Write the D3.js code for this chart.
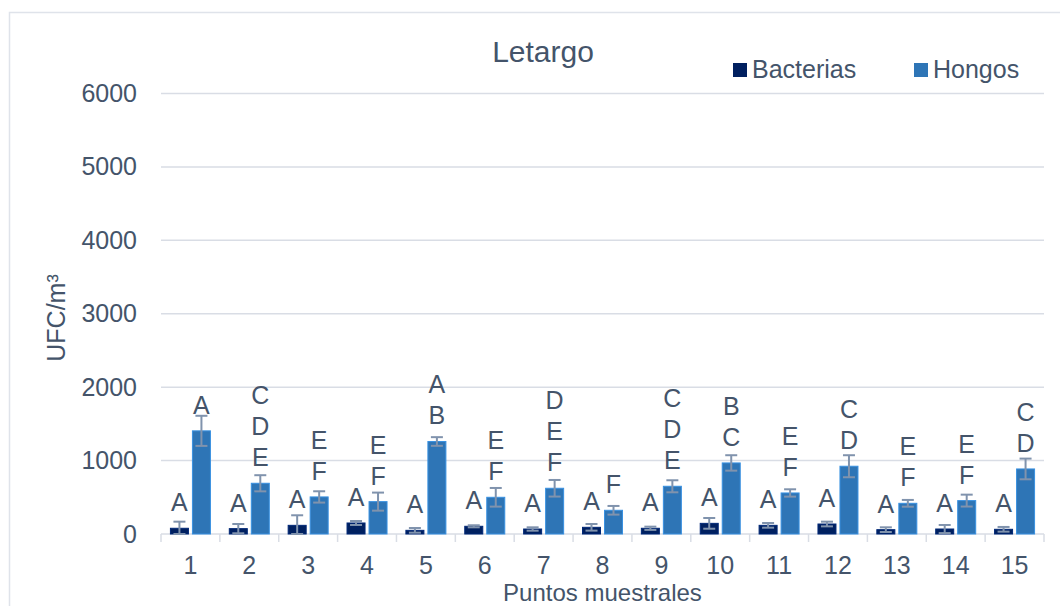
<!DOCTYPE html>
<html>
<head>
<meta charset="utf-8">
<script src="https://cdn.jsdelivr.net/npm/d3@7"></script>
<style>
  html, body { margin: 0; padding: 0; background: #ffffff; }
  svg { display: block; font-family: "Liberation Sans", Arial, sans-serif; }
</style>
</head>
<body>
<svg id="chart" width="1060" height="606"></svg>
<script>
// Sampling points and colony counts (UFC/m³) during the lethargy period
const points = ["1","2","3","4","5","6","7","8","9","10","11","12","13","14","15"];
const seriesNames = ["Bacterias", "Hongos"];
const bacterias = [78, 73, 118, 150, 50, 105, 68, 91, 78, 145, 118, 136, 59, 68, 64];
const bacteriasErr = [90, 63, 137, 27, 32, 14, 23, 45, 22, 73, 32, 32, 32, 55, 32];
const hongos = [1405, 691, 505, 441, 1260, 500, 623, 323, 650, 968, 559, 923, 418, 455, 886];
const hongosErr = [205, 110, 77, 123, 59, 127, 113, 59, 82, 105, 50, 150, 46, 81, 141];
// Significance groups (Tukey letters)
const bacteriasGroups = ["A","A","A","A","A","A","A","A","A","A","A","A","A","A","A"];
const hongosGroups = ["A","CDE","EF","EF","AB","EF","DEF","F","CDE","BC","EF","CD","EF","EF","CD"];
const yTicks = [0, 1000, 2000, 3000, 4000, 5000, 6000];

const colors = { Bacterias: "#002060", Hongos: "#2e75b6" };
const textColor = "#44546a";
const gridColor = "#d9dde5";
const errColor = "#8093ad";

const svg = d3.select("#chart");
const m = { left: 161, right: 1044, top: 93.5, bottom: 534 };

// chart frame
svg.append("rect")
  .attr("x", 9.5).attr("y", 12.5)
  .attr("width", 1100).attr("height", 700)
  .attr("fill", "none").attr("stroke", "#dfe3ea").attr("stroke-width", 1.5);

const x = d3.scaleBand().domain(points).range([m.left, m.right]).padding(0);
const y = d3.scaleLinear().domain([0, 6000]).range([m.bottom, m.top]);

// horizontal gridlines
svg.append("g").selectAll("line").data(yTicks.filter(d => d > 0)).join("line")
  .attr("x1", m.left).attr("x2", m.right)
  .attr("y1", d => y(d)).attr("y2", d => y(d))
  .attr("stroke", gridColor).attr("stroke-width", 1.5);

// y axis labels
const yAxis = d3.axisLeft(y).tickValues(yTicks).tickFormat(d3.format("d"))
  .tickSize(0).tickPadding(24);
const gy = svg.append("g").attr("transform", `translate(${m.left},0)`).call(yAxis);
gy.select(".domain").remove();
gy.selectAll("text").attr("fill", textColor).style("font-size", "25px")
  .attr("font-family", "Liberation Sans, Arial, sans-serif");

// x axis with category separators
const gx = svg.append("g").attr("transform", `translate(0,${m.bottom})`);
gx.append("line").attr("x1", m.left).attr("x2", m.right)
  .attr("stroke", gridColor).attr("stroke-width", 1.5);
const bounds = points.map(p => x(p)).concat([m.right]);
gx.selectAll("line.sep").data(bounds).join("line").attr("class", "sep")
  .attr("x1", d => d).attr("x2", d => d).attr("y1", 0).attr("y2", 8)
  .attr("stroke", gridColor).attr("stroke-width", 1.5);
gx.selectAll("text.tick").data(points).join("text").attr("class", "tick")
  .attr("x", d => x(d) + x.bandwidth() / 2).attr("y", 39.5)
  .attr("text-anchor", "middle").attr("fill", textColor).style("font-size", "25px")
  .text(d => d);

// bars
const barW = 18, gap = 4;
const offsets = { Bacterias: -gap / 2 - barW, Hongos: gap / 2 };
const series = [
  { name: "Bacterias", values: bacterias, err: bacteriasErr, groups: bacteriasGroups },
  { name: "Hongos", values: hongos, err: hongosErr, groups: hongosGroups }
];

series.forEach(s => {
  const rows = points.map((p, i) => ({ p, v: s.values[i], e: s.err[i], g: s.groups[i] }));
  const cx = d => x(d.p) + x.bandwidth() / 2 + offsets[s.name];
  const g = svg.append("g");
  g.selectAll("rect").data(rows).join("rect")
    .attr("x", d => cx(d)).attr("width", barW)
    .attr("y", d => y(d.v)).attr("height", d => y(0) - y(d.v))
    .attr("fill", colors[s.name])
    .attr("stroke", d3.color(colors[s.name]).brighter(0.6)).attr("stroke-width", 1);

  // error bars
  const eg = g.append("g").attr("stroke", errColor).attr("stroke-width", 2);
  rows.forEach(d => {
    const mx = cx(d) + barW / 2;
    const lo = Math.max(0, d.v - d.e), hi = d.v + d.e;
    eg.append("line").attr("x1", mx).attr("x2", mx).attr("y1", y(lo)).attr("y2", y(hi));
    eg.append("line").attr("x1", mx - 6).attr("x2", mx + 6).attr("y1", y(hi)).attr("y2", y(hi));
    eg.append("line").attr("x1", mx - 6).attr("x2", mx + 6).attr("y1", y(lo)).attr("y2", y(lo));
  });

  // group letters stacked above each bar
  rows.forEach(d => {
    const letters = d.g.split("");
    const mx = cx(d) + barW / 2;
    letters.forEach((L, k) => {
      g.append("text")
        .attr("x", mx)
        .attr("y", y(d.v) - 17 - (letters.length - 1 - k) * 31)
        .attr("text-anchor", "middle").attr("fill", textColor)
        .style("font-size", "25px").text(L);
    });
  });
});

// title
svg.append("text").attr("x", 543).attr("y", 62).attr("text-anchor", "middle")
  .attr("fill", textColor).style("font-size", "30px").text("Letargo");

// axis titles
svg.append("text").attr("x", (m.left + m.right) / 2).attr("y", 601).attr("text-anchor", "middle")
  .attr("fill", textColor).style("font-size", "24px").text("Puntos muestrales");
svg.append("text").attr("transform", "translate(65,318) rotate(-90)").attr("text-anchor", "middle")
  .attr("fill", textColor).style("font-size", "25px").text("UFC/m³");

// legend
const legendPos = [{ name: "Bacterias", x: 733 }, { name: "Hongos", x: 914 }];
const lg = svg.append("g");
legendPos.forEach(l => {
  lg.append("rect").attr("x", l.x).attr("y", 63).attr("width", 14).attr("height", 14)
    .attr("fill", colors[l.name]);
  lg.append("text").attr("x", l.x + 19).attr("y", 77.5).attr("fill", textColor)
    .style("font-size", "25px").text(l.name);
});
</script>
</body>
</html>
